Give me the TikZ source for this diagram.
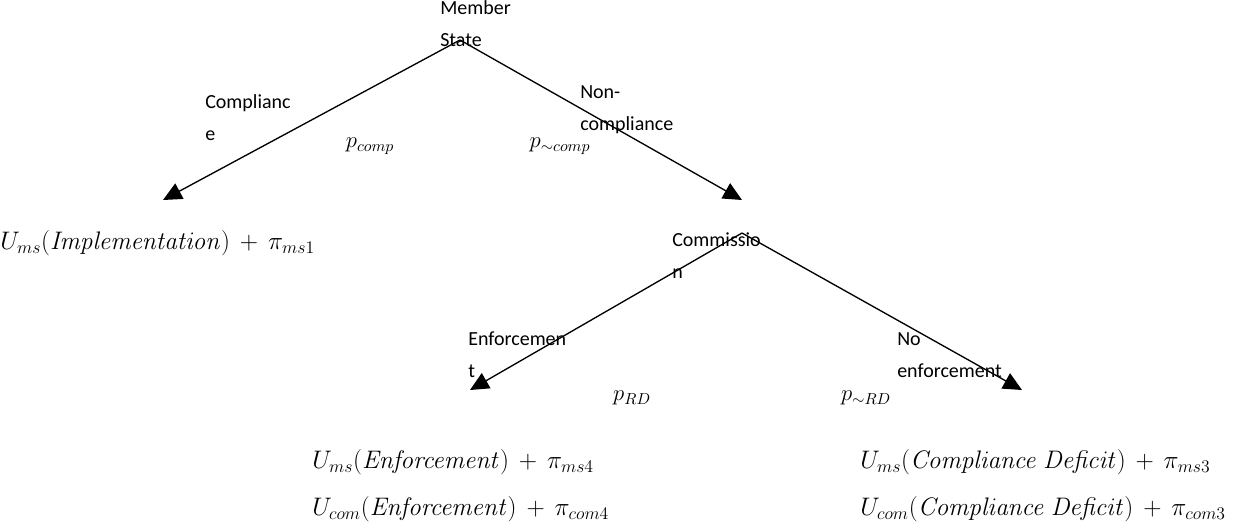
\RequirePackage{fix-cm}
\documentclass[tikz,border=0pt]{standalone}
\usepackage[no-math]{fontspec}
\setmainfont{Carlito}
\usetikzlibrary{arrows.meta}

\begin{document}
\begin{tikzpicture}[x=0.75pt,y=-0.75pt,
  branch/.style={line width=1pt,-{Triangle[width=13pt,length=14pt]}},
  player/.style={align=left,anchor=base west,inner sep=0pt,font=\fontsize{15}{24}\selectfont},
  payoff/.style={anchor=west,inner sep=0pt,font=\fontsize{19}{21}\selectfont},
  prob/.style={inner sep=0pt,font=\fontsize{17}{20}\selectfont}]
\useasboundingbox (0,0) rectangle (1260,526);
% member state moves
\coordinate (ms) at (460,40);
\coordinate (comp) at (163,200);
\coordinate (com) at (742,200);
\node[player] (msname) at (440,46) {Member\\State};
\node[player] (compname) at (205,140) {Complianc\\e};
\node[player] (noncompname) at (580,130) {Non-\\compliance};
\node[prob] (pcomp) at (370,146) {$p_{comp}$};
\node[prob] (pnoncomp) at (560,146) {$p_{\sim comp}$};
\draw[branch] (ms) -- (comp);
\draw[branch] (ms) -- (com);
\node[payoff] (impl) at (0,243) {$U_{ms}(\mathit{Implementation})\,+\,\pi_{ms1}$};
% commission moves
\coordinate (cm) at (742,233);
\coordinate (enf) at (470,390);
\coordinate (noenf) at (1022,390);
\node[player] (cmname) at (672,278) {Commissio\\n};
\node[player] (enfname) at (468,377) {Enforcemen\\t};
\node[player] (noenfname) at (897,377) {No\\enforcement};
\node[prob] (prd) at (632,398) {$p_{RD}$};
\node[prob] (pnord) at (866,398) {$p_{\sim RD}$};
\draw[branch] (cm) -- (enf);
\draw[branch] (cm) -- (noenf);
\node[payoff] (enfms) at (312,462) {$U_{ms}(\mathit{Enforcement})\,+\,\pi_{ms4}$};
\node[payoff] (enfcom) at (312,509) {$U_{com}(\mathit{Enforcement})\,+\,\pi_{com4}$};
\node[payoff] (defms) at (860,462) {$U_{ms}(\mathit{Compliance\ Deficit})\,+\,\pi_{ms3}$};
\node[payoff] (defcom) at (860,509) {$U_{com}(\mathit{Compliance\ Deficit})\,+\,\pi_{com3}$};
\end{tikzpicture}
\end{document}
